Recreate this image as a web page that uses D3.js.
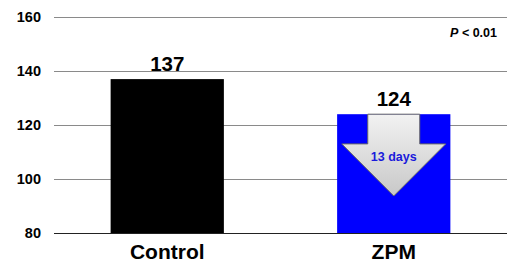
<!DOCTYPE html>
<html>
<head>
<meta charset="utf-8">
<script src="https://cdn.jsdelivr.net/npm/d3@7"></script>
<style>
  body { margin: 0; background: #fff; }
  text { font-family: Arial, "Liberation Sans", sans-serif; font-weight: bold; }
</style>
</head>
<body>
<svg width="510" height="267"></svg>
<script>
// chart values
var categories = ["Control", "ZPM"];
var values = [137, 124];
var barColors = ["#000000", "#0000ff"];
var yTicks = [80, 100, 120, 140, 160];
var diffLabel = "13 days";
var pLabel = "< 0.01";

var svg = d3.select("svg"),
    margin = {top: 17, right: 3, bottom: 34, left: 54},
    width = +svg.attr("width"),
    height = +svg.attr("height");

var x = d3.scaleBand()
    .domain(categories)
    .range([margin.left, width - margin.right])
    .paddingInner(0.5)
    .paddingOuter(0.25);

var y = d3.scaleLinear()
    .domain([80, 160])
    .range([height - margin.bottom, margin.top]);

// gridlines
svg.append("g")
    .selectAll("line")
    .data(yTicks)
    .enter().append("line")
    .attr("x1", margin.left)
    .attr("x2", width - margin.right)
    .attr("y1", function(d) { return y(d) + 0.5; })
    .attr("y2", function(d) { return y(d) + 0.5; })
    .attr("stroke", function(d) { return d == 80 ? "#222" : "#8a8a8a"; })
    .attr("stroke-width", 1);

// y tick labels
svg.append("g")
    .selectAll("text")
    .data(yTicks)
    .enter().append("text")
    .attr("x", 41)
    .attr("y", function(d) { return y(d); })
    .attr("dy", "0.36em")
    .attr("text-anchor", "end")
    .attr("font-size", 14.5)
    .text(function(d) { return d; });

// bars
svg.append("g")
    .selectAll("rect")
    .data(values)
    .enter().append("rect")
    .attr("x", function(d, i) { return x(categories[i]); })
    .attr("y", function(d) { return y(d); })
    .attr("width", x.bandwidth())
    .attr("height", function(d) { return y(80) - y(d); })
    .attr("fill", function(d, i) { return barColors[i]; });

// value labels
svg.append("g")
    .selectAll("text")
    .data(values)
    .enter().append("text")
    .attr("x", function(d, i) { return x(categories[i]) + x.bandwidth() / 2; })
    .attr("y", function(d) { return y(d) - 8; })
    .attr("text-anchor", "middle")
    .attr("font-size", 20.5)
    .text(function(d) { return d; });

// category labels
svg.append("g")
    .selectAll("text")
    .data(categories)
    .enter().append("text")
    .attr("x", function(d) { return x(d) + x.bandwidth() / 2; })
    .attr("y", height - 8)
    .attr("text-anchor", "middle")
    .attr("font-size", 21)
    .text(function(d) { return d; });

// down arrow inside the ZPM bar
var defs = svg.append("defs");
var grad = defs.append("linearGradient")
    .attr("id", "arrowGrad")
    .attr("x1", 0).attr("y1", 0).attr("x2", 0).attr("y2", 1);
grad.append("stop").attr("offset", "0%").attr("stop-color", "#f2f2f2");
grad.append("stop").attr("offset", "100%").attr("stop-color", "#c8c8c8");

var arrowX = x("ZPM") + x.bandwidth() / 2,
    arrowTop = y(values[1]),
    shaftHalf = 26,
    headHalf = 52,
    shaftBottom = y(values[1] - 11),
    arrowTip = y(values[1] - 30.3);

svg.append("path")
    .attr("d", d3.line()([
        [arrowX - shaftHalf, arrowTop],
        [arrowX + shaftHalf, arrowTop],
        [arrowX + shaftHalf, shaftBottom],
        [arrowX + headHalf, shaftBottom],
        [arrowX, arrowTip],
        [arrowX - headHalf, shaftBottom],
        [arrowX - shaftHalf, shaftBottom]
    ]) + "Z")
    .attr("fill", "url(#arrowGrad)")
    .attr("stroke", "#666")
    .attr("stroke-width", 1);

svg.append("text")
    .attr("x", arrowX)
    .attr("y", shaftBottom + 17)
    .attr("text-anchor", "middle")
    .attr("font-size", 12.5)
    .attr("fill", "#1a1adb")
    .text(diffLabel);

// significance note
var p = svg.append("text")
    .attr("x", 497)
    .attr("y", 37)
    .attr("text-anchor", "end")
    .attr("font-size", 12.5);
p.append("tspan").attr("font-style", "italic").text("P");
p.append("tspan").text(" " + pLabel);
</script>
</body>
</html>
